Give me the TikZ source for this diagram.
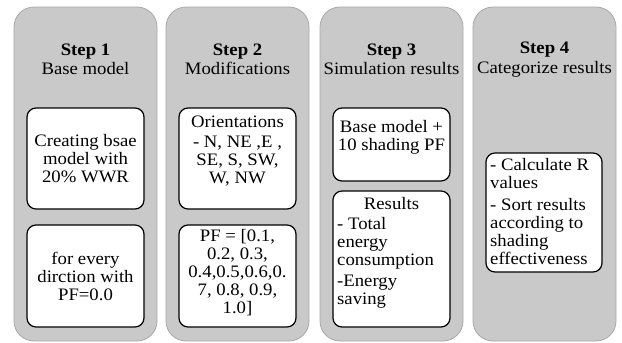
\documentclass[tikz,border=0pt]{standalone}
\usepackage{fontspec}
\setmainfont{Liberation Serif}[FakeStretch=1.07]
\definecolor{panelgray}{RGB}{201,201,201}
\definecolor{paneledge}{RGB}{168,168,168}
\tikzset{
  panel/.style={fill=panelgray, draw=paneledge, line width=0.8pt, rounded corners=20pt},
  stepbox/.style={fill=white, draw=black, line width=1.2pt, rounded corners=9pt},
  txt/.style={font=\fontsize{17.5}{18}\selectfont, inner sep=0pt, align=center},
  ltxt/.style={txt, align=left, anchor=north west},
}
\begin{document}
\begin{tikzpicture}[x=1pt,y=-1pt]
\useasboundingbox (0,0) rectangle (622,343);
% Draw the four gray step panels
\foreach \xl in {14,166,320,473}
  \draw[panel] (\xl,7) rectangle +(143,334);

% Step headers
\node[txt] (head1) at (85.5,59.5) {\textbf{Step 1}\\[1.5pt]Base model};
\node[txt] (head2) at (237.5,59.5) {\textbf{Step 2}\\[1.5pt]Modifications};
\node[txt] (head3) at (391.5,59.5) {\textbf{Step 3}\\[1.5pt]Simulation results};
\node[txt] (head4) at (544.5,59.5) {\textbf{Step 4}\\[1.5pt]Categorize results};

% Step 1: base model
\draw[stepbox] (27,108) rectangle (144,209);
\node[txt] (base) at (85.5,159) {Creating bsae\\model with\\20\% WWR};
\draw[stepbox] (27,225) rectangle (144,327);
\node[txt] (dir) at (85.5,276) {for every\\dirction with\\PF=0.0};

% Step 2: modifications
\draw[stepbox] (179,108) rectangle (296,209);
\node[txt] (orient) at (237.5,151) {Orientations\\[2.5pt]- N, NE ,E ,\\SE, S, SW,\\W, NW};
\draw[stepbox] (179,225) rectangle (296,327);
\node[txt] (pf) at (237.5,273) {PF = [0.1,\\0.2, 0.3,\\0.4,0.5,0.6,0.\\7, 0.8, 0.9,\\1.0]};

% Step 3: simulation results
\draw[stepbox] (333,108) rectangle (450,181);
\node[txt] (shade) at (391.5,137) {Base model +\\10 shading PF};
\draw[stepbox] (333,191) rectangle (450,327);
\node[txt] (res) at (391.5,204) {Results};
\node[ltxt] (energy) at (337,217) {- Total\\energy\\consumption\\[3pt]-Energy\\saving};

% Step 4: categorize results
\draw[stepbox] (486,153) rectangle (602,272);
\node[ltxt] (calc) at (490,158.5) {- Calculate R\\values\\[4pt]- Sort results\\according to\\shading\\effectiveness};
\end{tikzpicture}
\end{document}
